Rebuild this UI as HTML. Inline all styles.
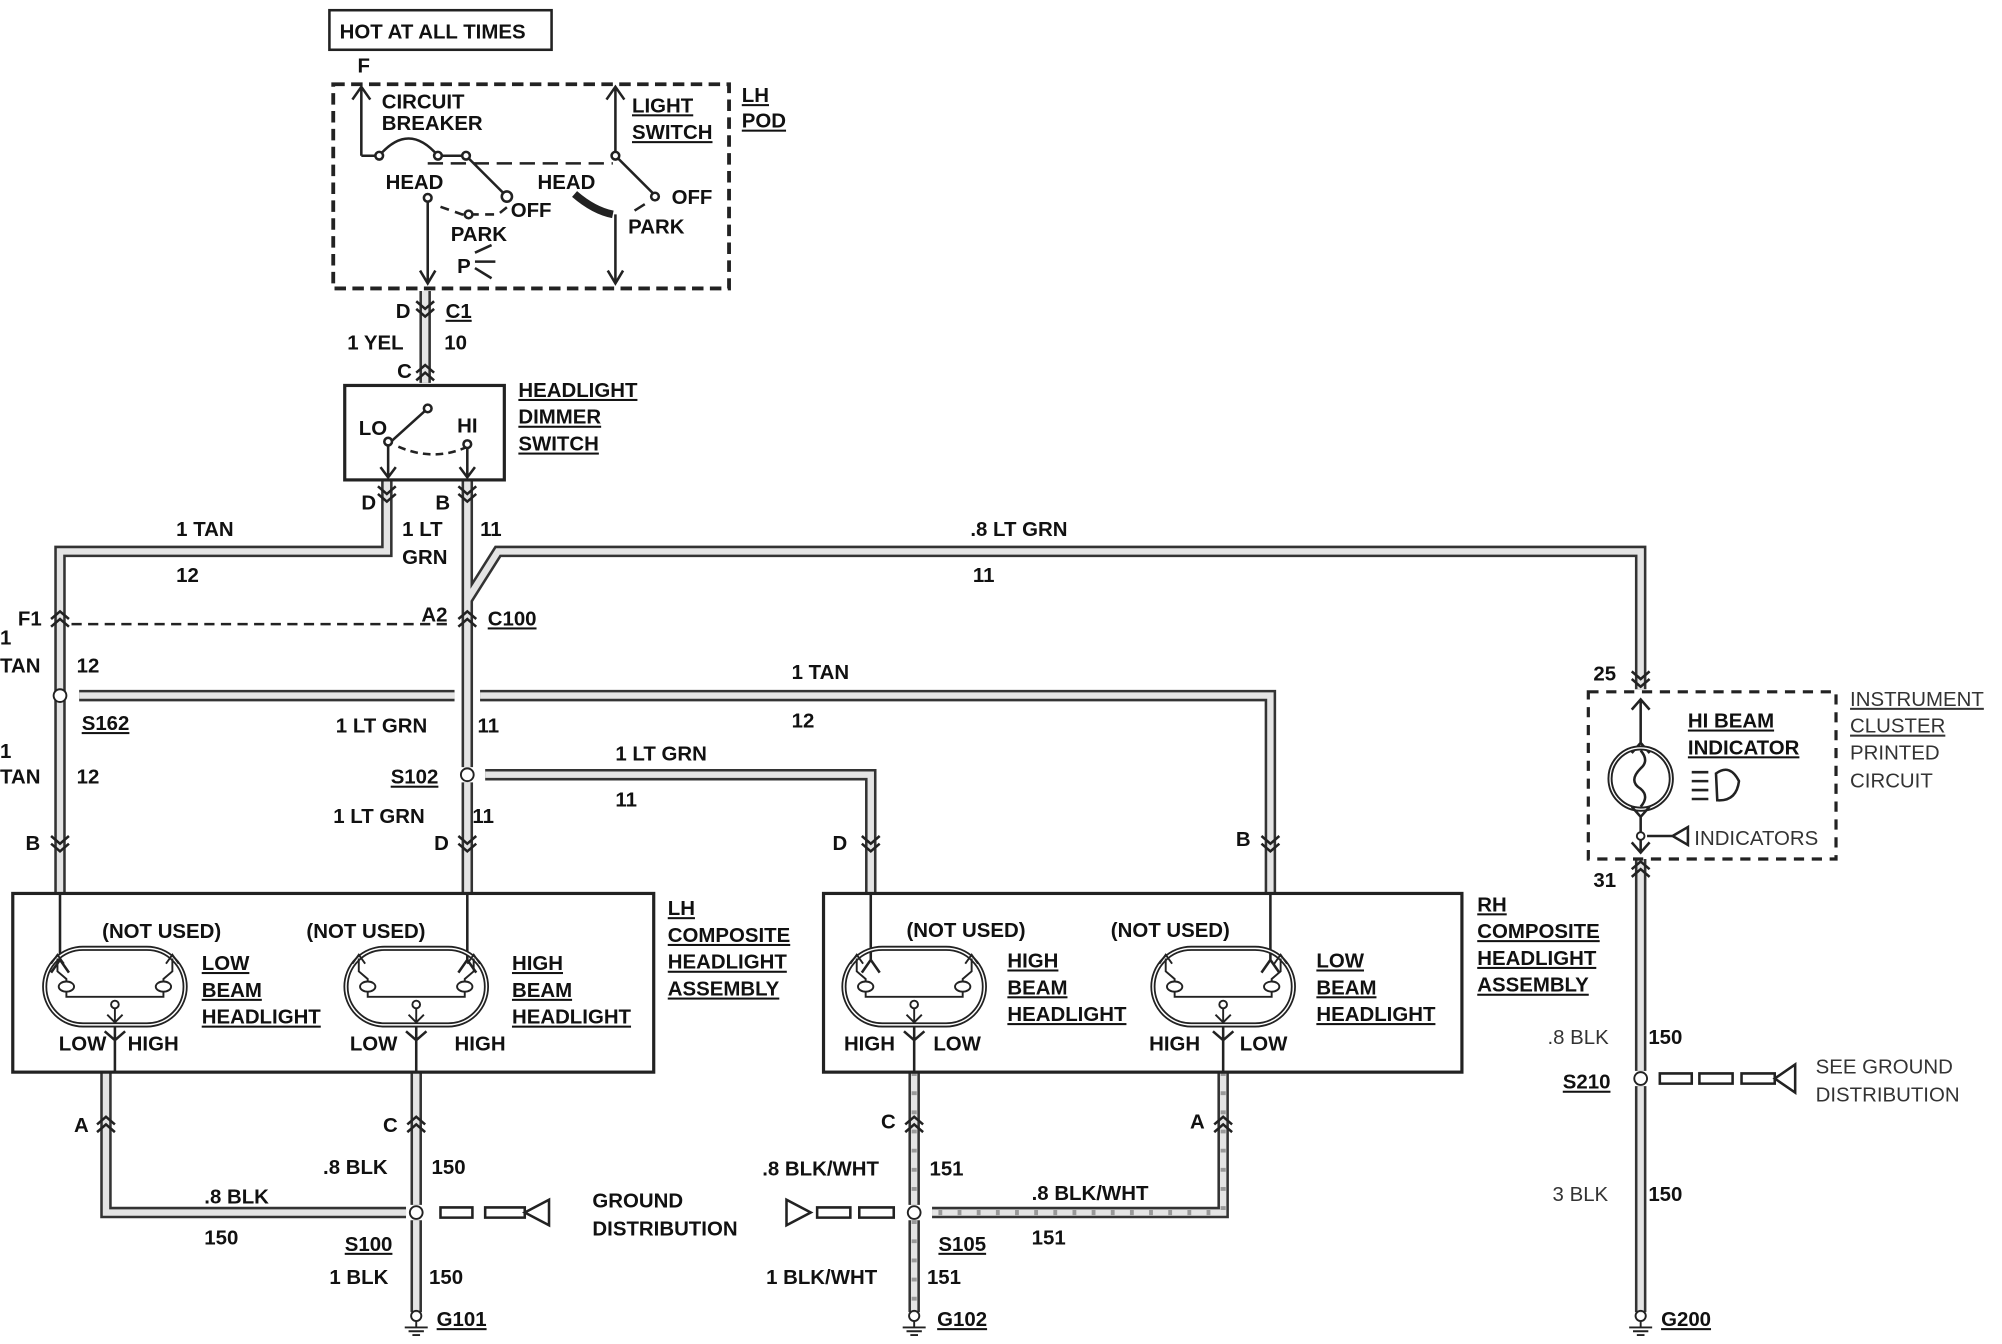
<!DOCTYPE html>
<html><head><meta charset="utf-8"><style>
html,body{margin:0;padding:0;background:#fff;}
svg{display:block;}
text{font-family:"Liberation Sans",sans-serif;font-weight:bold;font-size:16px;fill:#111;}
.u{text-decoration:underline;}
.l{font-weight:normal;fill:#333;}
</style></head><body>
<svg width="2002" height="1344" viewBox="0 0 1568 1053" preserveAspectRatio="none" xmlns="http://www.w3.org/2000/svg">
<defs>
<g id="lamp" fill="none" stroke="#222">
  <rect x="-55" y="-30" width="110" height="60" rx="30" stroke-width="4"/>
  <rect x="-55" y="-30" width="110" height="60" rx="30" stroke="#fff" stroke-width="1.2"/>
  <path d="M-45 -22 L-45 -12 L-38 -6 L-38 -4 M-38 4 L-38 8 L38 8 L38 4 M38 -4 L38 -6 L45 -12 L45 -22" stroke-width="1.5"/>
  <ellipse cx="-38" cy="0" rx="6" ry="4" stroke-width="1.5"/>
  <ellipse cx="38" cy="0" rx="6" ry="4" stroke-width="1.5"/>
  <path d="M-50 -18 L-45 -25 L-40 -18 M40 -18 L45 -25 L50 -18" stroke-width="1.5"/>
  <circle cx="0" cy="14" r="3" stroke-width="1.5"/>
  <path d="M0 17 L0 28 M-6 22 L0 28 L6 22" stroke-width="1.5"/>
</g>
<g id="cu" fill="none" stroke="#222" stroke-width="2">
  <path d="M-7 -2 L0 -8 L7 -2 M-7 4 L0 -2 L7 4"/>
</g>
<g id="cd" fill="none" stroke="#222" stroke-width="2">
  <path d="M-7 -4 L0 2 L7 -4 M-7 2 L0 8 L7 2"/>
</g>
<g id="gnd" fill="none" stroke="#222" stroke-width="1.5">
  <circle cx="0" cy="-3" r="4"/><path d="M0 1 L0 6 M-9 6 L9 6 M-6 9 L6 9 M-3 12 L3 12"/>
</g>
</defs>

<g fill="none" stroke-linejoin="miter">
<g id="W" >
<path id="w1" d="M333 228 L333 300"/>
<path id="w2" d="M303 377 L303 432 L47 432 L47 700"/>
<path id="w3" d="M366 377 L366 601"/>
<path id="w4" d="M366 470 L390 432 L1285 432 L1285 540"/>
<path id="w5" d="M62 545 L356 545 M376 545 L995 545 L995 700"/>
<path id="w6" d="M366 613 L366 700"/>
<path id="w7" d="M380 607 L682 607 L682 700"/>
<path id="w8" d="M83 840 L83 950 L318 950"/>
<path id="w9" d="M326 840 L326 944 M326 956 L326 1028"/>
<path id="w10" d="M716 840 L716 944 M716 956 L716 1028"/>
<path id="w11" d="M958 840 L958 950 L730 950"/>
<path id="w12" d="M1285 673 L1285 839 M1285 851 L1285 1028"/>
</g>
</g>
<g fill="none" stroke="#333" stroke-width="9"><use href="#W"/></g>
<g fill="none" stroke="#e4e4e4" stroke-width="5"><use href="#W"/></g>
<g fill="none" stroke="#999" stroke-width="4" stroke-dasharray="3 12"><use href="#w10"/><use href="#w11"/></g>

<rect x="258" y="8" width="174" height="31" fill="none" stroke="#222" stroke-width="2"/>
<text x="266" y="30" font-size="15">HOT AT ALL TIMES</text>
<text x="280" y="57">F</text>

<rect x="261" y="66" width="310" height="160" fill="none" stroke="#222" stroke-width="3" stroke-dasharray="9 5"/>
<g fill="none" stroke="#222" stroke-width="2">
<path d="M283 122 L283 68 M276 78 L283 68 L290 78"/>
<path d="M283 122 L297 122 Q320 95 343 122 L365 122 L395 152"/>
<path d="M335 128 L480 128" stroke-dasharray="12 6"/>
<path d="M335 155 L335 222 M329 212 L335 222 L341 212"/>
<path d="M345 162 L362 168 L390 168 L400 160" stroke-dasharray="7 5"/>
<path d="M482 122 L482 68 M475 78 L482 68 L489 78"/>
<path d="M482 122 L512 152"/>
<path d="M497 165 L505 160" />
<path d="M450 152 Q465 165 480 168" stroke-width="6"/>
<path d="M482 168 L482 222 M476 212 L482 222 L488 212"/>
<path d="M372 198 L385 192 M372 205 L388 205 M372 210 L385 218"/>
</g>
<g fill="#fff" stroke="#222" stroke-width="2">
<circle cx="297" cy="122" r="3"/><circle cx="343" cy="122" r="3"/><circle cx="365" cy="122" r="3"/>
<circle cx="397" cy="154" r="4"/><circle cx="335" cy="155" r="3"/><circle cx="367" cy="168" r="3"/>
<circle cx="482" cy="122" r="3"/><circle cx="513" cy="154" r="3"/>
</g>
<text x="299" y="85" font-size="15">CIRCUIT</text>
<text x="299" y="102" font-size="15">BREAKER</text>
<text x="302" y="148" font-size="15">HEAD</text>
<text x="400" y="170" font-size="15">OFF</text>
<text x="353" y="189" font-size="15">PARK</text>
<text x="358" y="214" font-size="15">P</text>
<text x="421" y="148" font-size="15">HEAD</text>
<text x="526" y="160" font-size="15">OFF</text>
<text x="492" y="183" font-size="15">PARK</text>
<text x="495" y="88" class="u">LIGHT</text>
<text x="495" y="109" class="u">SWITCH</text>
<text x="581" y="80" class="u" font-size="15">LH</text>
<text x="581" y="100" class="u" font-size="15">POD</text>

<use href="#cd" x="333" y="240"/>
<text x="310" y="249">D</text><text x="349" y="249" class="u">C1</text>
<text x="272" y="274">1 YEL</text><text x="348" y="274">10</text>
<use href="#cu" x="333" y="294"/><text x="311" y="296">C</text>

<rect x="270" y="302" width="125" height="74" fill="#fff" stroke="#222" stroke-width="2.5"/>
<g fill="none" stroke="#222" stroke-width="2">
<path d="M304 348 L335 320"/><path d="M312 350 Q340 362 366 350" stroke-dasharray="6 4"/>
<path d="M304 348 L304 374 M298 366 L304 374 L310 366"/><path d="M366 350 L366 374 M360 366 L366 374 L372 366"/>
</g>
<g fill="#fff" stroke="#222" stroke-width="2"><circle cx="304" cy="346" r="3"/><circle cx="335" cy="320" r="3"/><circle cx="366" cy="348" r="3"/></g>
<text x="281" y="341" font-size="15">LO</text><text x="358" y="339" font-size="15">HI</text>
<text x="406" y="311" class="u">HEADLIGHT</text>
<text x="406" y="332" class="u">DIMMER</text>
<text x="406" y="353" class="u">SWITCH</text>
<use href="#cd" x="303" y="385"/><use href="#cd" x="366" y="385"/>
<text x="283" y="399">D</text><text x="341" y="399">B</text>

<text x="138" y="420">1 TAN</text><text x="138" y="456">12</text>
<text x="315" y="420">1 LT</text><text x="315" y="442">GRN</text><text x="376" y="420">11</text>
<text x="760" y="420">.8 LT GRN</text><text x="762" y="456">11</text>

<use href="#cu" x="47" y="487"/><use href="#cu" x="366" y="487"/>
<path d="M56 489 L355 489" stroke="#222" stroke-width="2" stroke-dasharray="8 5"/>
<text x="14" y="490">F1</text><text x="330" y="487">A2</text><text x="382" y="490" class="u">C100</text>
<text x="0" y="505">1</text><text x="0" y="527">TAN</text><text x="60" y="527">12</text>

<circle cx="47" cy="545" r="5" fill="#fff" stroke="#222" stroke-width="1.5"/>
<text x="64" y="572" class="u">S162</text>
<text x="620" y="532">1 TAN</text><text x="620" y="570">12</text>
<text x="263" y="574">1 LT GRN</text><text x="374" y="574">11</text>
<text x="0" y="594">1</text><text x="0" y="614">TAN</text><text x="60" y="614">12</text>

<circle cx="366" cy="607" r="5" fill="#fff" stroke="#222" stroke-width="1.5"/>
<text x="306" y="614" class="u">S102</text>
<text x="482" y="596">1 LT GRN</text><text x="482" y="632">11</text>
<text x="261" y="645">1 LT GRN</text><text x="370" y="645">11</text>

<use href="#cd" x="47" y="659"/><use href="#cd" x="366" y="659"/><use href="#cd" x="682" y="659"/><use href="#cd" x="995" y="659"/>
<text x="20" y="666">B</text><text x="340" y="666">D</text><text x="652" y="666">D</text><text x="968" y="663">B</text>

<rect x="10" y="700" width="502" height="140" fill="#fff" stroke="#222" stroke-width="2.5"/>
<g fill="none" stroke="#222" stroke-width="2">
<path d="M47 700 L47 752 M40 762 L47 752 L54 762"/>
<path d="M366 700 L366 752 M359 762 L366 752 L373 762"/>
<path d="M90 800 L90 840 M82 808 L90 815 L98 808"/>
<path d="M326 800 L326 840 M318 808 L326 815 L334 808"/>
<path d="M682 700 L682 752 M675 762 L682 752 L689 762"/>
<path d="M995 700 L995 752 M988 762 L995 752 L1002 762"/>
<path d="M716 800 L716 840 M708 808 L716 815 L724 808"/>
<path d="M958 800 L958 840 M950 808 L958 815 L966 808"/>
</g>
<use href="#lamp" x="90" y="773"/><use href="#lamp" x="326" y="773"/>
<text x="80" y="735" font-size="15">(NOT USED)</text><text x="240" y="735" font-size="15">(NOT USED)</text>
<text x="158" y="760" class="u">LOW</text><text x="158" y="781" class="u">BEAM</text><text x="158" y="802" class="u">HEADLIGHT</text>
<text x="401" y="760" class="u">HIGH</text><text x="401" y="781" class="u">BEAM</text><text x="401" y="802" class="u">HEADLIGHT</text>
<text x="46" y="823" font-size="15">LOW</text><text x="100" y="823" font-size="15">HIGH</text>
<text x="274" y="823" font-size="15">LOW</text><text x="356" y="823" font-size="15">HIGH</text>
<text x="523" y="717" class="u">LH</text><text x="523" y="738" class="u">COMPOSITE</text><text x="523" y="759" class="u">HEADLIGHT</text><text x="523" y="780" class="u">ASSEMBLY</text>

<rect x="645" y="700" width="500" height="140" fill="none" stroke="#222" stroke-width="2.5"/>
<use href="#lamp" x="716" y="773"/><use href="#lamp" x="958" y="773"/>
<text x="710" y="734" font-size="15">(NOT USED)</text><text x="870" y="734" font-size="15">(NOT USED)</text>
<text x="789" y="758" class="u">HIGH</text><text x="789" y="779" class="u">BEAM</text><text x="789" y="800" class="u">HEADLIGHT</text>
<text x="1031" y="758" class="u">LOW</text><text x="1031" y="779" class="u">BEAM</text><text x="1031" y="800" class="u">HEADLIGHT</text>
<text x="661" y="823" font-size="15">HIGH</text><text x="731" y="823" font-size="15">LOW</text>
<text x="900" y="823" font-size="15">HIGH</text><text x="971" y="823" font-size="15">LOW</text>
<text x="1157" y="714" class="u">RH</text><text x="1157" y="735" class="u">COMPOSITE</text><text x="1157" y="756" class="u">HEADLIGHT</text><text x="1157" y="777" class="u">ASSEMBLY</text>

<use href="#cu" x="83" y="883"/><use href="#cu" x="326" y="883"/><use href="#cu" x="716" y="883"/><use href="#cu" x="958" y="883"/>
<text x="58" y="887">A</text><text x="300" y="887">C</text><text x="690" y="884">C</text><text x="932" y="884">A</text>
<text x="253" y="920">.8 BLK</text><text x="338" y="920">150</text>
<text x="160" y="943">.8 BLK</text><text x="160" y="975">150</text>
<circle cx="326" cy="950" r="5" fill="#fff" stroke="#222" stroke-width="1.5"/>
<g fill="none" stroke="#222" stroke-width="2">
<path d="M345 946 L370 946 L370 954 L345 954 Z M380 946 L411 946 L411 954 L380 954 Z M411 950 L430 940 L430 960 Z"/>
<path d="M616 940 L616 960 L635 950 Z M640 946 L666 946 L666 954 L640 954 Z M673 946 L700 946 L700 954 L673 954 Z"/>
<path d="M1300 841 L1325 841 L1325 849 L1300 849 Z M1331 841 L1357 841 L1357 849 L1331 849 Z M1364 841 L1390 841 L1390 849 L1364 849 Z M1390 845 L1406 834 L1406 856 Z"/>
</g>
<text x="464" y="946">GROUND</text><text x="464" y="968">DISTRIBUTION</text>
<text x="270" y="980" class="u">S100</text>
<text x="258" y="1006">1 BLK</text><text x="336" y="1006">150</text>
<use href="#gnd" x="326" y="1034"/><text x="342" y="1039" class="u">G101</text>

<text x="597" y="921">.8 BLK/WHT</text><text x="728" y="921">151</text>
<text x="808" y="940">.8 BLK/WHT</text><text x="808" y="975">151</text>
<circle cx="716" cy="950" r="5" fill="#fff" stroke="#222" stroke-width="1.5"/>
<text x="735" y="980" class="u">S105</text>
<text x="600" y="1006">1 BLK/WHT</text><text x="726" y="1006">151</text>
<use href="#gnd" x="716" y="1034"/><text x="734" y="1039" class="u">G102</text>

<use href="#cd" x="1285" y="530"/><text x="1248" y="533">25</text>
<rect x="1244" y="542" width="194" height="131" fill="none" stroke="#222" stroke-width="2.5" stroke-dasharray="8 6"/>
<g fill="none" stroke="#222" stroke-width="2">
<path d="M1285 548 L1285 582 M1278 556 L1285 548 L1292 556 M1278 590 L1285 582 L1292 590"/>
<circle cx="1285" cy="610" r="24" stroke-width="4"/><circle cx="1285" cy="610" r="24" stroke="#fff" stroke-width="1"/>
<path d="M1285 588 Q1292 596 1285 602 Q1275 612 1285 618 Q1292 624 1285 632"/>
<path d="M1285 640 L1285 668 M1278 632 L1285 640 L1292 632 M1278 660 L1285 668 L1292 660"/>
<path d="M1290 655 L1310 655 M1310 655 L1322 648 L1322 662 Z"/>
<path d="M1325 605 L1338 605 M1325 612 L1338 612 M1325 619 L1338 619 M1325 626 L1338 626"/>
<path d="M1344 606 Q1355 598 1362 612 Q1360 628 1345 627 Z"/>
</g>
<circle cx="1285" cy="655" r="3" fill="#fff" stroke="#222" stroke-width="1.5"/>
<text x="1322" y="570" class="u">HI BEAM</text><text x="1322" y="591" class="u">INDICATOR</text>
<text x="1327" y="662" class="l" font-size="15">INDICATORS</text>
<text x="1449" y="553" class="u l">INSTRUMENT</text><text x="1449" y="574" class="u l">CLUSTER</text>
<text x="1449" y="595" class="l">PRINTED</text><text x="1449" y="617" class="l">CIRCUIT</text>
<use href="#cu" x="1285" y="683"/><text x="1248" y="695">31</text>
<text x="1212" y="818" class="l">.8 BLK</text><text x="1291" y="818">150</text>
<circle cx="1285" cy="845" r="5" fill="#fff" stroke="#222" stroke-width="1.5"/>
<text x="1224" y="853" class="u">S210</text>
<text x="1422" y="841" class="l">SEE GROUND</text><text x="1422" y="863" class="l">DISTRIBUTION</text>
<text x="1216" y="941" class="l">3 BLK</text><text x="1291" y="941">150</text>
<use href="#gnd" x="1285" y="1034"/><text x="1301" y="1039" class="u">G200</text>
</svg>
</body></html>
